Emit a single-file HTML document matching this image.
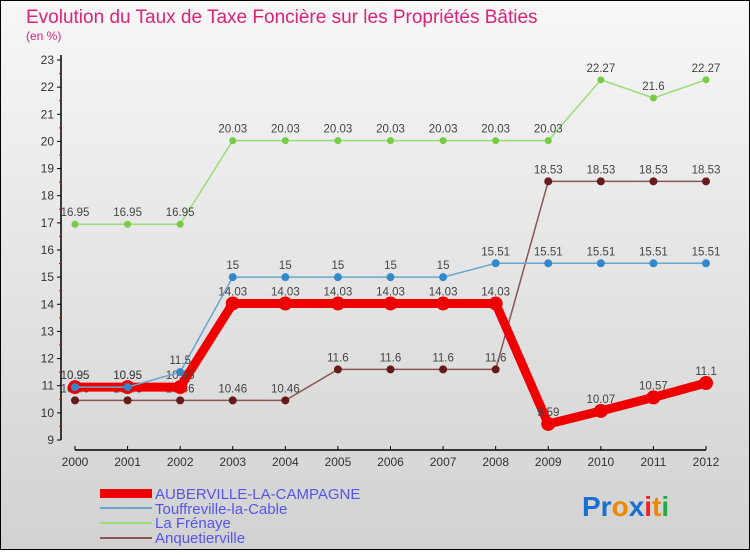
<!DOCTYPE html>
<html><head><meta charset="utf-8"><style>
body{margin:0;width:750px;height:550px;overflow:hidden;font-family:"Liberation Sans",sans-serif}
</style></head><body>
<svg width="750" height="550" xmlns="http://www.w3.org/2000/svg">
<defs><linearGradient id="bg" x1="0" y1="0" x2="0" y2="1"><stop offset="0" stop-color="#f7f7f7"/><stop offset="1" stop-color="#d2d2d2"/></linearGradient></defs>
<rect x="0.5" y="0.5" width="749" height="549" fill="url(#bg)" stroke="#000"/>
<text x="26" y="23" font-size="19" fill="#dd2277">Evolution du Taux de Taxe Foncière sur les Propriétés Bâties</text>
<text x="26" y="40" font-size="12" fill="#dd2277">(en %)</text>
<g id="axes"></g><g id="series"></g>
<g>
<rect x="100" y="489" width="52" height="9" fill="#e00"/>
<text x="155" y="499" font-size="15" fill="#5555ee">AUBERVILLE-LA-CAMPAGNE</text>
<line x1="100" y1="508" x2="152" y2="508" stroke="#6aa6cc" stroke-width="2"/>
<text x="155" y="514" font-size="15" fill="#5555ee">Touffreville-la-Cable</text>
<line x1="100" y1="523" x2="152" y2="523" stroke="#99dd77" stroke-width="2"/>
<text x="155" y="528" font-size="15" fill="#5555ee">La Frénaye</text>
<line x1="100" y1="538" x2="152" y2="538" stroke="#8b5555" stroke-width="2"/>
<text x="155" y="543" font-size="15" fill="#5555ee">Anquetierville</text>
</g>
<text x="582" y="516" font-size="28" font-weight="bold"><tspan fill="#1a6fd0">Pr</tspan><tspan fill="#ee8800">o</tspan><tspan fill="#1a6fd0">x</tspan><tspan fill="#e22">i</tspan><tspan fill="#ee8800">t</tspan><tspan fill="#22aa44">i</tspan></text>
</svg>
<script>
const years=[2000,2001,2002,2003,2004,2005,2006,2007,2008,2009,2010,2011,2012];
const yTicks=[9,10,11,12,13,14,15,16,17,18,19,20,21,22,23];
const auberville=[10.95,10.95,10.95,14.03,14.03,14.03,14.03,14.03,14.03,9.59,10.07,10.57,11.1];
const touffreville=[10.95,10.95,11.5,15,15,15,15,15,15.51,15.51,15.51,15.51,15.51];
const frenaye=[16.95,16.95,16.95,20.03,20.03,20.03,20.03,20.03,20.03,20.03,22.27,21.6,22.27];
const anquetierville=[10.46,10.46,10.46,10.46,10.46,11.6,11.6,11.6,11.6,18.53,18.53,18.53,18.53];
const NS="http://www.w3.org/2000/svg";
const X=i=>75+i*(631/12), Y=v=>440-(v-9)*(380/14);
function mk(t,a,p){const e=document.createElementNS(NS,t);for(const k in a)e.setAttribute(k,a[k]);p.appendChild(e);return e;}
const ax=document.getElementById('axes');
mk('line',{x1:61,y1:55,x2:61,y2:440,stroke:'#000','stroke-width':1.5},ax);
mk('line',{x1:75,y1:450,x2:706,y2:450,stroke:'#000','stroke-width':1.5},ax);
yTicks.forEach(v=>{mk('line',{x1:57,y1:Y(v),x2:61,y2:Y(v),stroke:'#000'},ax);
 if(v<23)mk('line',{x1:59,y1:Y(v+0.5),x2:61,y2:Y(v+0.5),stroke:'#e00'},ax);
 const t=mk('text',{x:54,y:Y(v)+4,'font-size':12,'text-anchor':'end',fill:'#333'},ax);t.textContent=v;
 });
years.forEach((y,i)=>{mk('line',{x1:X(i),y1:446,x2:X(i),y2:450,stroke:'#000'},ax);
 const t=mk('text',{x:X(i),y:466,'font-size':12,'text-anchor':'middle',fill:'#333'},ax);t.textContent=y;
 });
const sg=document.getElementById('series');
function series(name,data,col,dot,w,r){
 const g=mk('g',{},sg);
 
 
 mk('polyline',{points:data.map((v,i)=>X(i)+','+Y(v)).join(' '),fill:'none',stroke:col,'stroke-width':w,'stroke-linejoin':'round'},g);
 data.forEach((v,i)=>{const c=mk('circle',{cx:X(i),cy:Y(v),r:r,fill:dot},g);
  
  const t=mk('text',{x:X(i),y:Y(v)-8,'font-size':11.5,'text-anchor':'middle',fill:'#444'},g);t.textContent=v;
  });
}
series('la-frenaye-line',frenaye,'#99dd77','#77cc44',1.5,3.5);
series('anquetierville-line',anquetierville,'#8b5555','#661a1a',1.5,4);
series('auberville-line',auberville,'#ee0000','#ee0000',9,7);
series('touffreville-line',touffreville,'#6aa6cc','#3388cc',1.5,4);
</script>
</body></html>
